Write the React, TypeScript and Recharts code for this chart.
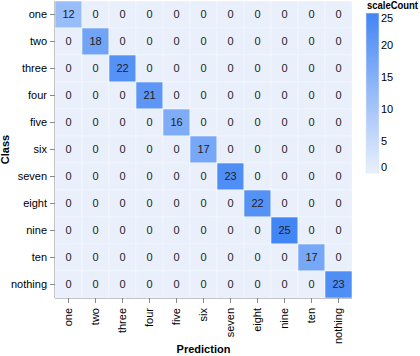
import React from "react";
import { ScatterChart, Scatter, XAxis, YAxis } from "recharts";

const CLASSES = ["one", "two", "three", "four", "five", "six", "seven", "eight", "nine", "ten", "nothing"];

// rows = Class (actual), columns = Prediction
const COUNTS = [
  [12, 0, 0, 0, 0, 0, 0, 0, 0, 0, 0],
  [0, 18, 0, 0, 0, 0, 0, 0, 0, 0, 0],
  [0, 0, 22, 0, 0, 0, 0, 0, 0, 0, 0],
  [0, 0, 0, 21, 0, 0, 0, 0, 0, 0, 0],
  [0, 0, 0, 0, 16, 0, 0, 0, 0, 0, 0],
  [0, 0, 0, 0, 0, 17, 0, 0, 0, 0, 0],
  [0, 0, 0, 0, 0, 0, 23, 0, 0, 0, 0],
  [0, 0, 0, 0, 0, 0, 0, 22, 0, 0, 0],
  [0, 0, 0, 0, 0, 0, 0, 0, 25, 0, 0],
  [0, 0, 0, 0, 0, 0, 0, 0, 0, 17, 0],
  [0, 0, 0, 0, 0, 0, 0, 0, 0, 0, 23],
];

const LEGEND_TICKS = [25, 20, 15, 10, 5, 0];
const COUNT_MAX = 25;

const FONT = "'Liberation Sans', Arial, sans-serif";
const LOW = [233, 240, 252];
const HIGH = [66, 133, 244];

const W = 420;
const H = 356;
const MARGIN = { top: 1, right: 68, bottom: 0, left: 0 };
const Y_AXIS_W = 55;
const X_AXIS_H = 58;
const PLOT_W = W - MARGIN.left - MARGIN.right - Y_AXIS_W;
const PLOT_H = H - MARGIN.top - MARGIN.bottom - X_AXIS_H;
const CELL_W = PLOT_W / CLASSES.length;
const CELL_H = PLOT_H / CLASSES.length;

const colorFor = (v: number) => {
  const t = Math.max(0, Math.min(1, v / COUNT_MAX));
  const c = LOW.map((lo, i) => Math.round(lo + (HIGH[i] - lo) * t));
  return `rgb(${c[0]},${c[1]},${c[2]})`;
};

const cells = COUNTS.flatMap((row, r) => row.map((count, c) => ({ pred: c, cls: r, count })));
const idxTicks = CLASSES.map((_, i) => i);

function HeatCell(props: any) {
  const { cx, cy, payload } = props;
  if (cx == null || cy == null) return null;
  return (
    <g>
      <rect
        x={cx - CELL_W / 2}
        y={cy - CELL_H / 2}
        width={CELL_W}
        height={CELL_H}
        fill={colorFor(payload.count)}
        stroke="#f5f8fe"
        strokeWidth={0.6}
      />
      <text x={cx} y={cy} dy="0.35em" textAnchor="middle" fontSize={11} fill="#222" fontFamily={FONT}>
        {payload.count}
      </text>
    </g>
  );
}

function XTick(props: any) {
  const { x, y, payload } = props;
  return (
    <text
      x={x}
      y={y + 3}
      transform={`rotate(-90, ${x}, ${y + 3})`}
      textAnchor="end"
      dy="0.35em"
      fontSize={11}
      fill="#000"
      fontFamily={FONT}
    >
      {CLASSES[payload.value]}
    </text>
  );
}

function YTick(props: any) {
  const { x, y, payload } = props;
  return (
    <text x={x - 1} y={y} dy="0.35em" textAnchor="end" fontSize={11} fill="#000" fontFamily={FONT}>
      {CLASSES[payload.value]}
    </text>
  );
}

function XTitle(props: any) {
  const vb = props.viewBox || { x: Y_AXIS_W, y: PLOT_H, width: PLOT_W, height: X_AXIS_H };
  return (
    <text x={vb.x + vb.width / 2} y={vb.y + vb.height - 7} dy="0.35em" textAnchor="middle" fontSize={11} fontWeight="bold" fontFamily={FONT} fill="#000">
      Prediction
    </text>
  );
}

function YTitle(props: any) {
  const vb = props.viewBox || { x: 0, y: MARGIN.top, width: Y_AXIS_W, height: PLOT_H };
  const x = vb.x + 5;
  const y = vb.y + vb.height / 2;
  return (
    <text x={x} y={y} transform={`rotate(-90, ${x}, ${y})`} dy="0.35em" textAnchor="middle" fontSize={11} fontWeight="bold" fontFamily={FONT} fill="#000">
      Class
    </text>
  );
}

function ColorLegend() {
  const top = 13;
  const h = 160;
  return (
    <svg width={60} height={190} style={{ position: "absolute", left: 360, top: 0, overflow: "visible" }}>
      <defs>
        <linearGradient id="lg" x1="0" y1="1" x2="0" y2="0">
          <stop offset="0%" stopColor={colorFor(0)} />
          <stop offset="100%" stopColor={colorFor(COUNT_MAX)} />
        </linearGradient>
      </defs>
      <text
        x={7}
        y={9}
        fontSize={10}
        fontWeight="bold"
        fontFamily={FONT}
        fill="#000"
        textLength={51}
        lengthAdjust="spacingAndGlyphs"
      >
        scaleCount
      </text>
      <rect x={6} y={top} width={13} height={h} fill="url(#lg)" stroke="#e4e9f5" strokeWidth={0.6} />
      {LEGEND_TICKS.map((v) => {
        let ty = top + h - (v / COUNT_MAX) * h;
        if (v === COUNT_MAX) ty += 5;
        if (v === 0) ty -= 6;
        return (
          <text key={v} x={21} y={ty} dy="0.35em" fontSize={11} fontFamily={FONT} fill="#000">
            {v}
          </text>
        );
      })}
    </svg>
  );
}

export default function App() {
  return (
    <div style={{ position: "absolute", left: 0, top: 0, width: W, height: H, background: "#fff", fontFamily: FONT }}>
      <ScatterChart width={W} height={H} margin={MARGIN}>
        <XAxis
          type="number"
          dataKey="pred"
          domain={[-0.5, CLASSES.length - 0.5]}
          ticks={idxTicks}
          interval={0}
          height={X_AXIS_H}
          tick={<XTick />}
          tickSize={5}
          stroke="#888"
          label={<XTitle />}
          allowDataOverflow
        />
        <YAxis
          type="number"
          dataKey="cls"
          domain={[-0.5, CLASSES.length - 0.5]}
          ticks={idxTicks}
          interval={0}
          reversed
          width={Y_AXIS_W}
          tick={<YTick />}
          tickSize={5}
          stroke="#888"
          label={<YTitle />}
          allowDataOverflow
        />
        <Scatter data={cells} shape={<HeatCell />} isAnimationActive={false} />
      </ScatterChart>
      <ColorLegend />
    </div>
  );
}
